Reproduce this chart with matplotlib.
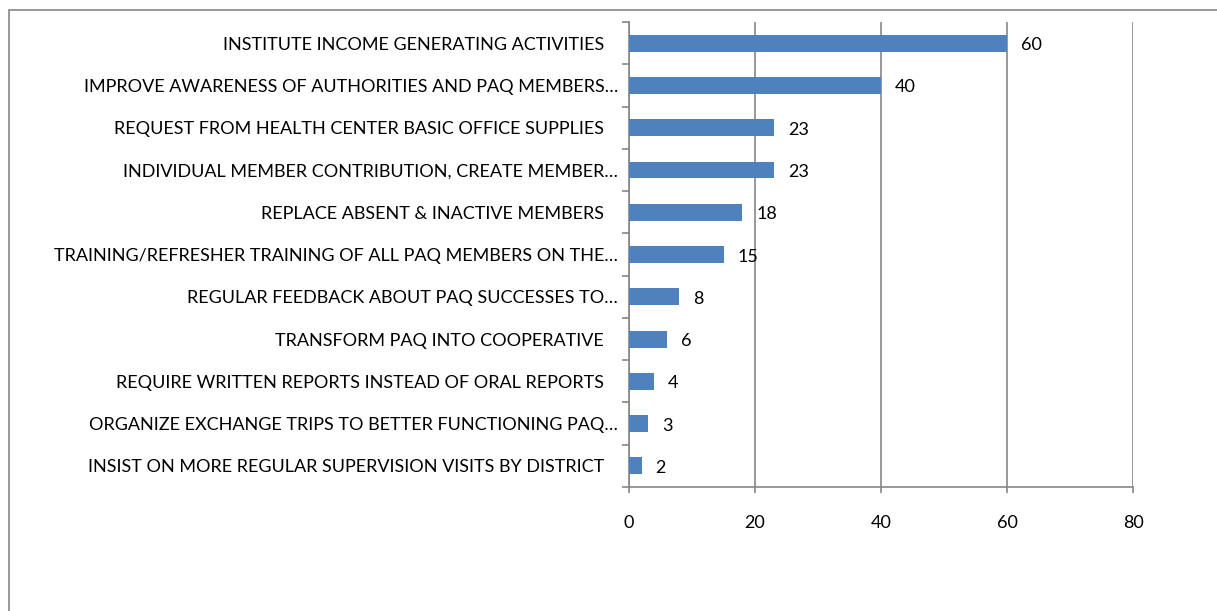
import numpy as np
import matplotlib.pyplot as plt
import matplotlib.patches as mpatches

plt.rcParams['font.family'] = ['Lato', 'DejaVu Sans']

categories = [
    "INSTITUTE INCOME GENERATING ACTIVITIES   ",
    "IMPROVE AWARENESS OF AUTHORITIES AND PAQ MEMBERS\u2026",
    "REQUEST FROM HEALTH CENTER BASIC OFFICE SUPPLIES   ",
    "INDIVIDUAL MEMBER CONTRIBUTION, CREATE MEMBER\u2026",
    "REPLACE ABSENT & INACTIVE MEMBERS   ",
    "TRAINING/REFRESHER TRAINING OF ALL PAQ MEMBERS ON THE\u2026",
    "REGULAR FEEDBACK ABOUT PAQ SUCCESSES TO\u2026",
    "TRANSFORM PAQ INTO COOPERATIVE   ",
    "REQUIRE WRITTEN REPORTS INSTEAD OF ORAL REPORTS   ",
    "ORGANIZE EXCHANGE TRIPS TO BETTER FUNCTIONING PAQ\u2026",
    "INSIST ON MORE REGULAR SUPERVISION VISITS BY DISTRICT   ",
]
values = [60, 40, 23, 23, 18, 15, 8, 6, 4, 3, 2]
xticks = [0, 20, 40, 60, 80]

axis_gray = '#868686'
bar_blue = '#4F81BD'
fs = 13

fig = plt.figure(figsize=(12.17, 6.11), dpi=100)
ax = fig.add_axes([629 / 1217, 1 - 487 / 611, 504 / 1217, 465 / 611])

# outer chart border (only left and top visible in the original)
fig.patches.append(mpatches.Rectangle((9 / 1217, -0.1), 1.2, 1 - 10 / 611 + 0.1,
                                      transform=fig.transFigure, fill=False,
                                      edgecolor=axis_gray, linewidth=1.2))

y = np.arange(len(categories))
ax.barh(y, values, height=0.4, color=bar_blue, zorder=3)

for yi, v in zip(y, values):
    ax.annotate(str(v), (v, yi), xytext=(14, -2), textcoords='offset pixels',
                va='center', ha='left', fontsize=fs)

ax.set_xlim(0, 80)
ax.set_ylim(len(categories) - 0.5, -0.5)
ax.set_xticks(xticks)
ax.set_yticks(y)
ax.set_yticklabels(categories)
ax.set_yticks(np.arange(-0.5, len(categories)), minor=True)

ax.tick_params(axis='y', which='major', length=0, pad=8, labelsize=fs)
ax.tick_params(axis='y', which='minor', length=5, color=axis_gray, width=1.2)
ax.tick_params(axis='x', length=4, color=axis_gray, width=1.2, pad=16, labelsize=fs)

ax.grid(axis='x', color=axis_gray, linewidth=1.2, zorder=0)
for s in ['top', 'right']:
    ax.spines[s].set_visible(False)
for s in ['left', 'bottom']:
    ax.spines[s].set_color(axis_gray)
    ax.spines[s].set_linewidth(1.2)

fig.savefig('out.png', dpi=100)
